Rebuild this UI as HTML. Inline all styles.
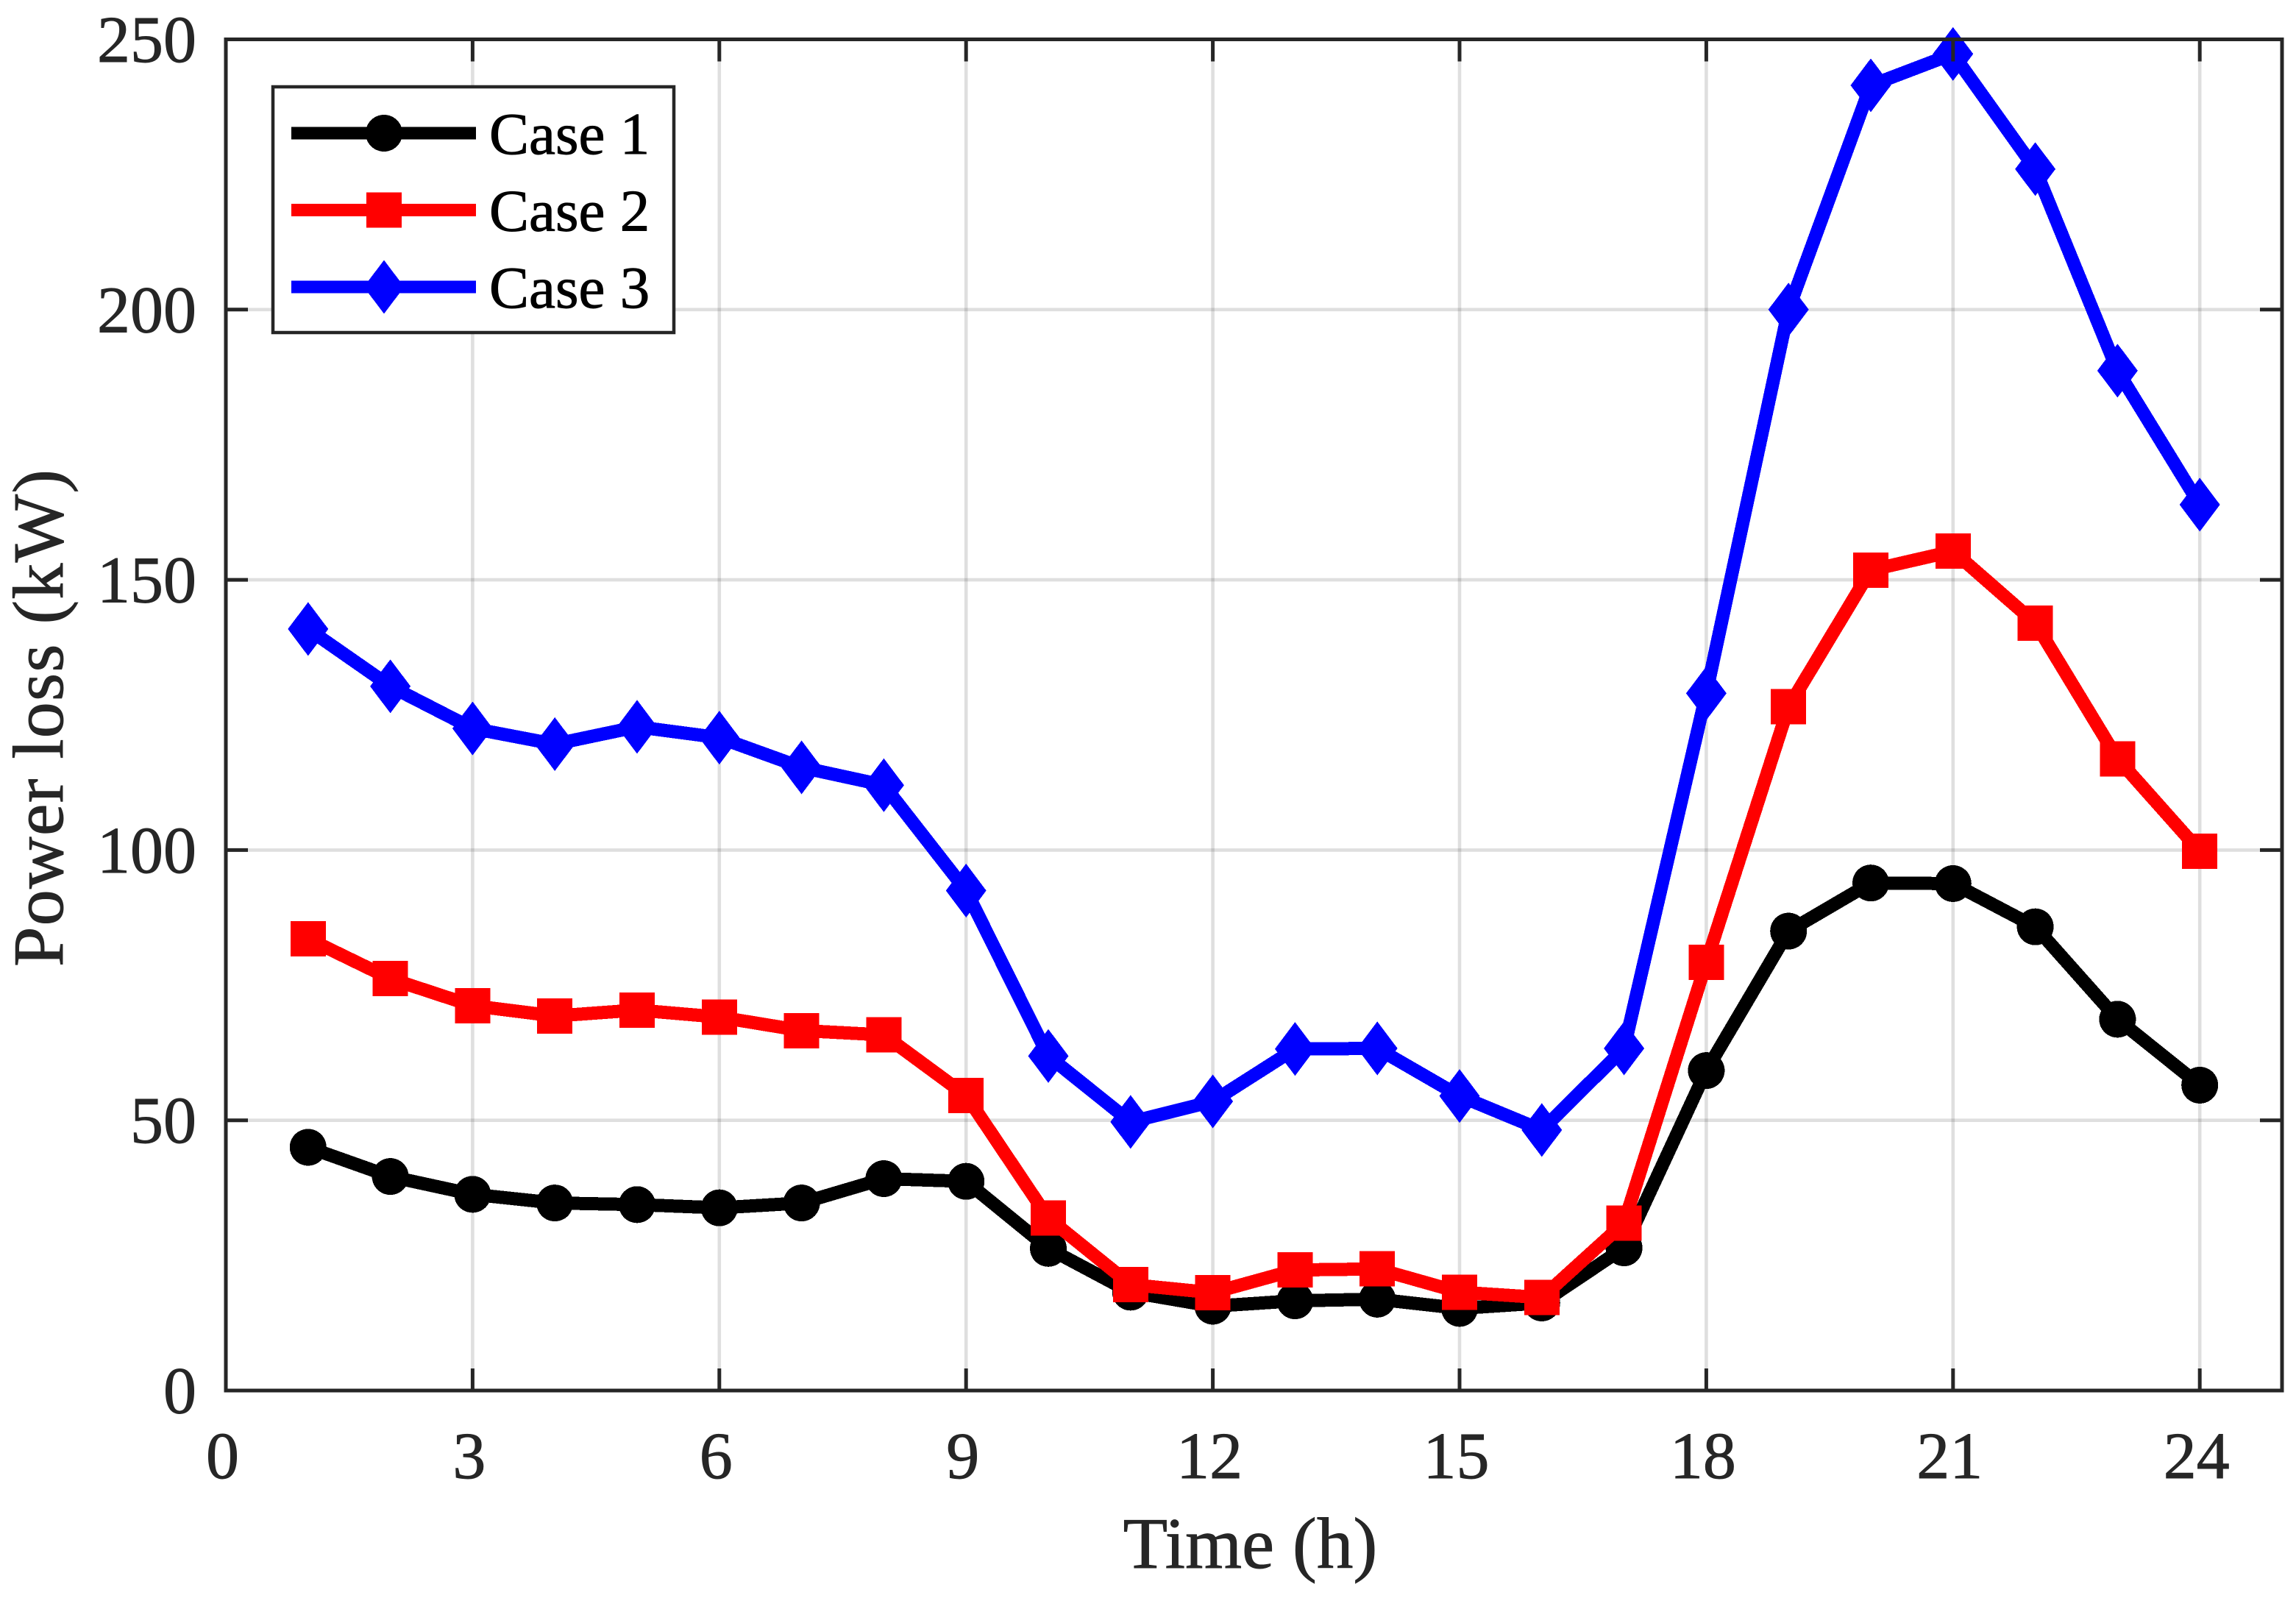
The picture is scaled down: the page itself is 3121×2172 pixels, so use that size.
<!DOCTYPE html>
<html lang="en">
<head>
<meta charset="utf-8">
<title>Power loss chart</title>
<style>
html,body{margin:0;padding:0;background:#fff;}
body{width:3121px;height:2172px;overflow:hidden;}
svg{display:block;font-family:"Liberation Serif","Times New Roman",serif;}
text{stroke:#262626;stroke-width:0.9px;}
#series,.legend-mark{shape-rendering:crispEdges;}
</style>
</head>
<body>
<svg id="chart" xmlns="http://www.w3.org/2000/svg" width="3121" height="2172" viewBox="0 0 3121 2172">
  <rect x="0" y="0" width="3121" height="2172" fill="#ffffff"/>
  <g id="grid"></g>
  <g id="series"></g>
  <g id="axes"></g>
  <text x="1699.5" y="2131" font-size="99" text-anchor="middle" fill="#262626">Time (h)</text>
  <text x="0" y="0" transform="translate(85 976) rotate(-90)" font-size="98" text-anchor="middle" fill="#262626" textLength="676" lengthAdjust="spacing">Power loss (kW)</text>
  <g id="legend"></g>
</svg>
<script>
const hours = [1,2,3,4,5,6,7,8,9,10,11,12,13,14,15,16,17,18,19,20,21,22,23,24];
const case1Values = [45,39.6,36.3,34.7,34.4,33.8,34.7,39.2,38.7,26.3,18.2,15.6,16.6,16.9,15.2,16.2,26.4,59.2,85,93.9,93.8,85.8,68.7,56.5];
const case2Values = [83.6,76.2,71.2,69.3,70.4,69.1,66.6,65.8,54.6,31.9,19.6,18.1,22.3,22.5,18.2,17.2,31,79.2,126.5,151.8,155.3,142,116.9,99.8];
const case3Values = [140.9,130.3,122.5,119.6,122.8,120.8,115.3,112,92.5,61.9,49.7,53.5,63.2,63.3,54.5,48.2,63.3,129,200,241.5,247.3,226,188.7,163.9];
const xTicks = [0,3,6,9,12,15,18,21,24];
const yTicks = [0,50,100,150,200,250];
const seriesNames = ["Case 1","Case 2","Case 3"];

const NS = "http://www.w3.org/2000/svg";
const plot = {left:307, right:3102, top:53.5, bottom:1890, xMin:0, xMax:25, yMin:0, yMax:250};
function xScale(v){ return plot.left + (v-plot.xMin)/(plot.xMax-plot.xMin)*(plot.right-plot.left); }
function yScale(v){ return plot.bottom - (v-plot.yMin)/(plot.yMax-plot.yMin)*(plot.bottom-plot.top); }

function make(tag, attrs, parent){
  const el = document.createElementNS(NS, tag);
  for (const k in attrs) el.setAttribute(k, attrs[k]);
  parent.appendChild(el);
  return el;
}

const gridG = document.getElementById("grid");
const seriesG = document.getElementById("series");
const axesG = document.getElementById("axes");
const legendG = document.getElementById("legend");

xTicks.forEach(function(t){
  if (t === plot.xMin) return;
  const line = make("line",{x1:xScale(t),x2:xScale(t),y1:plot.top,y2:plot.bottom,stroke:"#262626","stroke-opacity":0.15,"stroke-width":4.6},gridG);
  
  
});
yTicks.forEach(function(t){
  if (t === plot.yMin || t === plot.yMax) return;
  const line = make("line",{x1:plot.left,x2:plot.right,y1:yScale(t),y2:yScale(t),stroke:"#262626","stroke-opacity":0.15,"stroke-width":4.6},gridG);
  
  
});

function drawMarker(kind, cx, cy, color, parent){
  let m;
  if (kind === "circle") {
    m = make("circle",{cx:cx,cy:cy,r:25,fill:color},parent);
  } else if (kind === "square") {
    m = make("rect",{x:cx-24,y:cy-24,width:48,height:48,fill:color},parent);
  } else {
    m = make("polygon",{points:[cx,cy-36.5,cx+27.5,cy,cx,cy+36.5,cx-27.5,cy].join(" "),fill:color},parent);
  }
  return m;
}

function drawSeries(values, color, kind, name){
  const g = make("g",{},seriesG);
  
  
  const pts = hours.map(function(h,i){ return xScale(h)+","+yScale(values[i]); }).join(" ");
  const line = make("polyline",{points:pts,fill:"none",stroke:color,"stroke-width":18,"stroke-linejoin":"round"},g);
  
  
  hours.forEach(function(h,i){
    const m = drawMarker(kind, xScale(h), yScale(values[i]), color, g);
    
    
  });
}
drawSeries(case1Values,"#000000","circle","case-1");
drawSeries(case2Values,"#ff0000","square","case-2");
drawSeries(case3Values,"#0000ff","diamond","case-3");

const frame = make("rect",{x:plot.left,y:plot.top,width:plot.right-plot.left,height:plot.bottom-plot.top,fill:"none",stroke:"#262626","stroke-width":5},axesG);



xTicks.forEach(function(t){
  const x = xScale(t);
  const tickB = make("line",{x1:x,x2:x,y1:plot.bottom,y2:plot.bottom-30,stroke:"#262626","stroke-width":5},axesG);
  
  
  const tickT = make("line",{x1:x,x2:x,y1:plot.top,y2:plot.top+30,stroke:"#262626","stroke-width":5},axesG);
  
  
  const label = make("text",{x:x-4.5,y:2009,"font-size":90,"text-anchor":"middle",fill:"#262626"},axesG);
  label.textContent = String(t);
  
  
});
yTicks.forEach(function(t){
  const y = yScale(t);
  const tickL = make("line",{x1:plot.left,x2:plot.left+30,y1:y,y2:y,stroke:"#262626","stroke-width":5},axesG);
  
  
  const tickR = make("line",{x1:plot.right,x2:plot.right-30,y1:y,y2:y,stroke:"#262626","stroke-width":5},axesG);
  
  
  const label = make("text",{x:267,y:y+30.5,"font-size":90,"text-anchor":"end",fill:"#262626"},axesG);
  label.textContent = String(t);
  
  
});

const legendBox = make("rect",{x:371,y:118,width:545,height:334,fill:"#ffffff",stroke:"#262626","stroke-width":4.5},legendG);


const legendColors = ["#000000","#ff0000","#0000ff"];
const legendKinds = ["circle","square","diamond"];
seriesNames.forEach(function(n,i){
  const cy = 181 + i*104.5;
  const g = make("g",{class:"legend-mark"},legendG);
  
  
  const line = make("line",{x1:396,x2:647,y1:cy,y2:cy,stroke:legendColors[i],"stroke-width":17},g);
  
  
  const m = drawMarker(legendKinds[i],522,cy,legendColors[i],g);
  
  
  const label = make("text",{x:665,y:209+i*104.5,"font-size":81,fill:"#000000",style:"stroke:#000000"},g);
  label.textContent = n;
  
  
});
</script>
</body>
</html>
